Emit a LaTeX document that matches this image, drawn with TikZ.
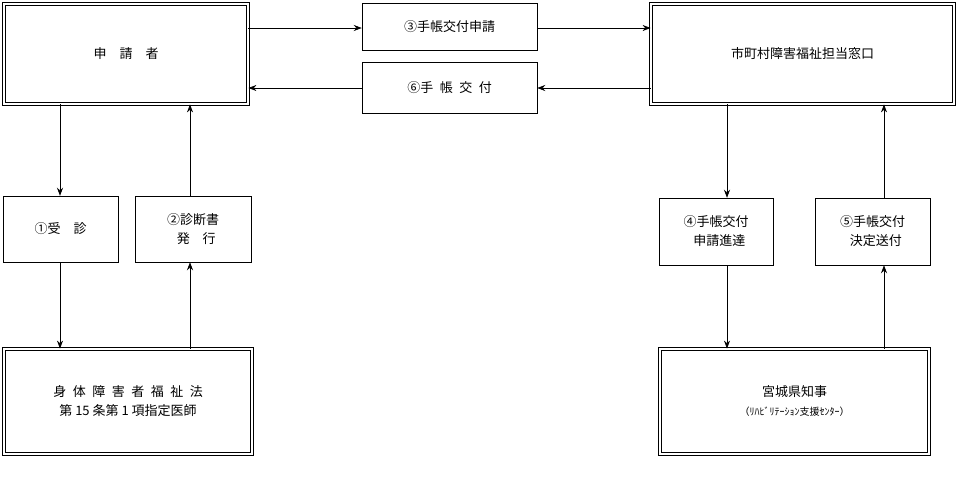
\documentclass[tikz,border=0pt]{standalone}
\usepackage{fontspec}
\setmainfont{Noto Sans CJK JP}
\usetikzlibrary{arrows.meta}
\tikzset{
  dbox/.style={draw, double, double distance=1.6pt, line width=0.8pt, inner sep=0pt, align=center, font=\fontsize{13}{19}\selectfont},
  sbox/.style={draw, line width=0.5pt, inner sep=0pt, align=center, font=\fontsize{13}{19}\selectfont},
  flow/.style={-{Stealth[length=8pt,width=6pt]}, line width=0.6pt}
}
\begin{document}
\begin{tikzpicture}[x=1pt,y=-1pt]
	\useasboundingbox (0,0) rectangle (959,491);
	
	\node[dbox, minimum width=244pt, minimum height=100pt] (app) at (126,54) {申\quad 請\quad 者};
	\node[dbox, minimum width=303pt, minimum height=100pt] (city) at (802.5,54) {市町村障害福祉担当窓口};
	\node[sbox, minimum width=175pt, minimum height=47pt] (req) at (449.5,27) {③手帳交付申請};
	\node[sbox, minimum width=175pt, minimum height=51pt] (issue) at (449.5,87.5) {⑥手\enspace 帳\enspace 交\enspace 付};
	
	\node[sbox, minimum width=115pt, minimum height=66pt] (exam) at (60.5,229) {①受\quad 診};
	\node[sbox, minimum width=116pt, minimum height=66pt] (cert) at (193,229) {②診断書\\\enspace 発\quad 行};
	\node[dbox, minimum width=248pt, minimum height=105pt] (doc) at (128,401.5) {身\enspace 体\enspace 障\enspace 害\enspace 者\enspace 福\enspace 祉\enspace 法\\第 15 条第 1 項指定医師};
	
	\node[sbox, minimum width=114pt, minimum height=67pt] (send) at (716,231.5) {④手帳交付\\\enspace 申請進達};
	\node[sbox, minimum width=115pt, minimum height=67pt] (decide) at (872.5,231.5) {⑤手帳交付\\\enspace 決定送付};
	\node[dbox, minimum width=269pt, minimum height=105pt] (gov) at (794.5,401.5) {宮城県知事\\{\fontsize{10}{12}\selectfont （ﾘﾊﾋﾞﾘﾃｰｼｮﾝ支援ｾﾝﾀｰ）}};
	
	% top row
	\draw[flow] (app.east |- 0,28) -- (req.west |- 0,28);
	\draw[flow] (req.east |- 0,28) -- (city.west |- 0,28);
	\draw[flow] (city.west |- 0,88) -- (issue.east |- 0,88);
	\draw[flow] (issue.west |- 0,88) -- (app.east |- 0,88);
	
	% left column
	\draw[flow] (app.south -| 60,0) -- (exam.north -| 60,0);
	\draw[flow] (exam.south -| 60,0) -- (doc.north -| 60,0);
	\draw[flow] (doc.north -| 190,0) -- (cert.south -| 190,0);
	\draw[flow] (cert.north -| 190,0) -- (app.south -| 190,0);
	
	% right column
	\draw[flow] (city.south -| 727,0) -- (send.north -| 727,0);
	\draw[flow] (send.south -| 727,0) -- (gov.north -| 727,0);
	\draw[flow] (gov.north -| 884,0) -- (decide.south -| 884,0);
	\draw[flow] (decide.north -| 884,0) -- (city.south -| 884,0);
	
\end{tikzpicture}
\end{document}
